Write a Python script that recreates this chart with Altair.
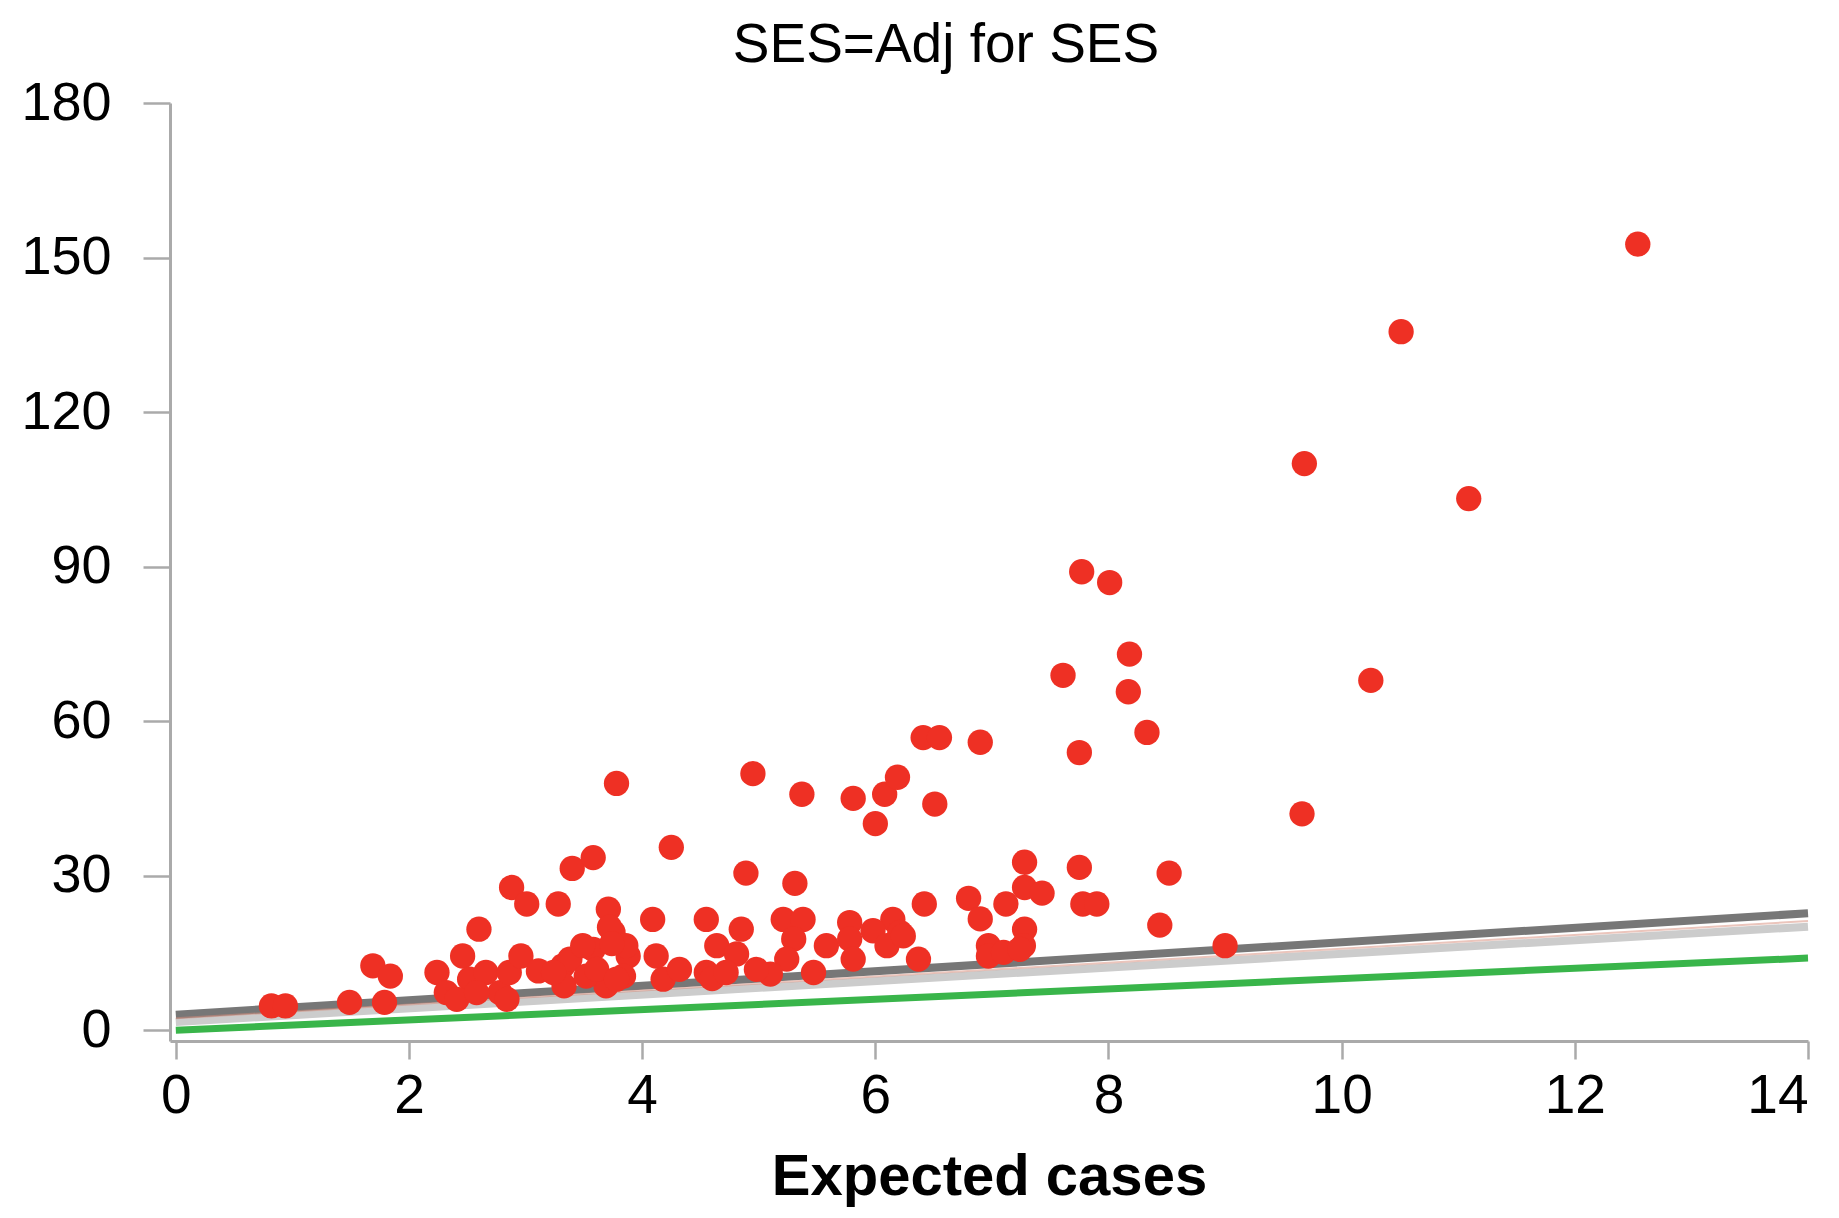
import altair as alt
import pandas as pd

obs_x = [0.82, 0.94, 1.49, 1.79, 1.69, 1.84, 2.24, 2.32, 2.46, 2.52,
         2.66, 2.78, 2.86, 2.96, 3.11, 3.32, 2.41, 2.58, 2.84, 3.33,
         2.60, 2.88, 3.01, 3.28, 3.40, 3.58, 3.78, 4.25, 4.89, 4.95,
         5.31, 5.37, 5.81, 6.08, 6.19, 6.00, 6.51, 6.41, 6.55, 6.90,
         3.71, 4.09, 4.55, 4.85, 5.21, 5.38, 5.78, 6.15, 6.42, 6.37,
         3.75, 4.64, 4.81, 5.58, 5.78, 5.98, 6.21, 5.81, 6.10, 5.30,
         5.24, 5.10, 4.98, 5.47, 4.55, 4.60, 4.18, 4.12, 4.32, 3.88,
         3.84, 3.58, 3.38, 3.69, 3.52, 7.28, 7.75, 8.52, 6.80, 6.90,
         7.12, 7.28, 7.43, 7.78, 7.90, 8.44, 9.00, 7.28, 7.27, 6.97,
         6.97, 7.10, 6.24, 7.24, 7.77, 8.01, 8.18, 7.61, 8.17, 8.33,
         7.75, 9.66, 10.25, 9.68, 11.09, 10.51, 12.54, 3.24, 3.49, 3.61,
         3.78, 3.86, 3.72, 3.74, 4.72]
obs_y = [4.7, 4.7, 5.4, 5.4, 12.5, 10.5, 11.2, 7.3, 14.4, 9.9,
         11.2, 7.3, 11.2, 14.4, 11.5, 12.5, 6.0, 7.3, 6.0, 8.6,
         19.6, 27.7, 24.5, 24.5, 31.4, 33.5, 47.9, 35.5, 30.5, 49.8,
         28.5, 45.8, 45.0, 45.8, 49.1, 40.1, 43.9, 56.8, 56.8, 55.9,
         23.5, 21.5, 21.5, 19.6, 21.5, 21.5, 20.9, 21.5, 24.5, 13.8,
         19.0, 16.4, 14.8, 16.4, 17.7, 19.3, 19.0, 13.8, 16.4, 17.7,
         13.8, 10.9, 11.8, 11.2, 11.2, 10.0, 9.9, 14.4, 11.8, 14.4,
         10.5, 15.7, 13.8, 8.6, 10.5, 32.6, 31.6, 30.5, 25.6, 21.6,
         24.5, 27.7, 26.6, 24.5, 24.5, 20.4, 16.4, 19.6, 16.4, 16.4,
         14.4, 15.1, 18.3, 15.7, 89.0, 86.9, 73.0, 68.9, 65.7, 57.8,
         53.9, 42.0, 67.9, 110.0, 103.2, 135.6, 152.6, 11.2, 16.4, 11.8,
         9.9, 16.4, 20.0, 16.8, 11.2]

# Reference / fitted lines (end points)
line_x = [0, 14]
fit_upper_y = [3.0, 22.7]
fit_mid_y = [2.3, 21.2]
fit_lower_y = [1.6, 20.1]
identity_y = [0, 14]

FONT = "Liberation Sans"

x_scale = alt.Scale(domain=[-0.05, 14], nice=False, zero=False)
y_scale = alt.Scale(domain=[-2.1, 180], nice=False, zero=False)

x_axis = alt.Axis(values=list(range(0, 15, 2)), title="Expected cases", grid=False,
                  domainColor="#aaaaaa", domainWidth=3, tickColor="#aaaaaa", tickWidth=2.5,
                  tickSize=18, labelFontSize=55, labelColor="black", labelFont=FONT,
                  labelPadding=10, titleFont=FONT, titleFontSize=58, titleFontWeight="bold",
                  titleColor="black", titlePadding=25)
y_axis = alt.Axis(values=list(range(0, 181, 30)), title=None, grid=False,
                  domainColor="#aaaaaa", domainWidth=3, tickColor="#aaaaaa", tickWidth=2.5,
                  tickSize=27, labelFontSize=54, labelColor="black", labelFont=FONT,
                  labelPadding=32)


def line_layer(yvals, color, width, opacity=1.0):
    df = pd.DataFrame({"x": line_x, "y": yvals})
    return alt.Chart(df).mark_line(color=color, strokeWidth=width, opacity=opacity,
                                   strokeCap="butt").encode(
        x=alt.X("x:Q", scale=x_scale, axis=x_axis),
        y=alt.Y("y:Q", scale=y_scale, axis=y_axis),
    )


pts = pd.DataFrame({"x": obs_x, "y": obs_y})
points = alt.Chart(pts).mark_circle(size=640, color="#ee3024", opacity=1).encode(
    x=alt.X("x:Q", scale=x_scale, axis=x_axis),
    y=alt.Y("y:Q", scale=y_scale, axis=y_axis),
)

chart = alt.layer(
    line_layer(fit_lower_y, "#cccccc", 8),
    line_layer(fit_upper_y, "#777777", 8),
    line_layer(fit_mid_y, "#d88b7a", 2, 0.5),
    line_layer(identity_y, "#39b54a", 7),
    points,
).properties(
    width=1638,
    height=938,
    padding={"left": 162, "top": 95, "right": 23, "bottom": 167},
    autosize=alt.AutoSizeParams(type="none"),
    title=alt.TitleParams("SES=Adj for SES", font=FONT, fontSize=55, fontWeight="normal",
                          color="black", anchor="middle", frame="group",
                          baseline="alphabetic", offset=19, dx=-43, dy=60),
).configure(background="white").configure_view(stroke=None)

chart.save("out.html", embed_options={"renderer": "svg", "actions": False})
